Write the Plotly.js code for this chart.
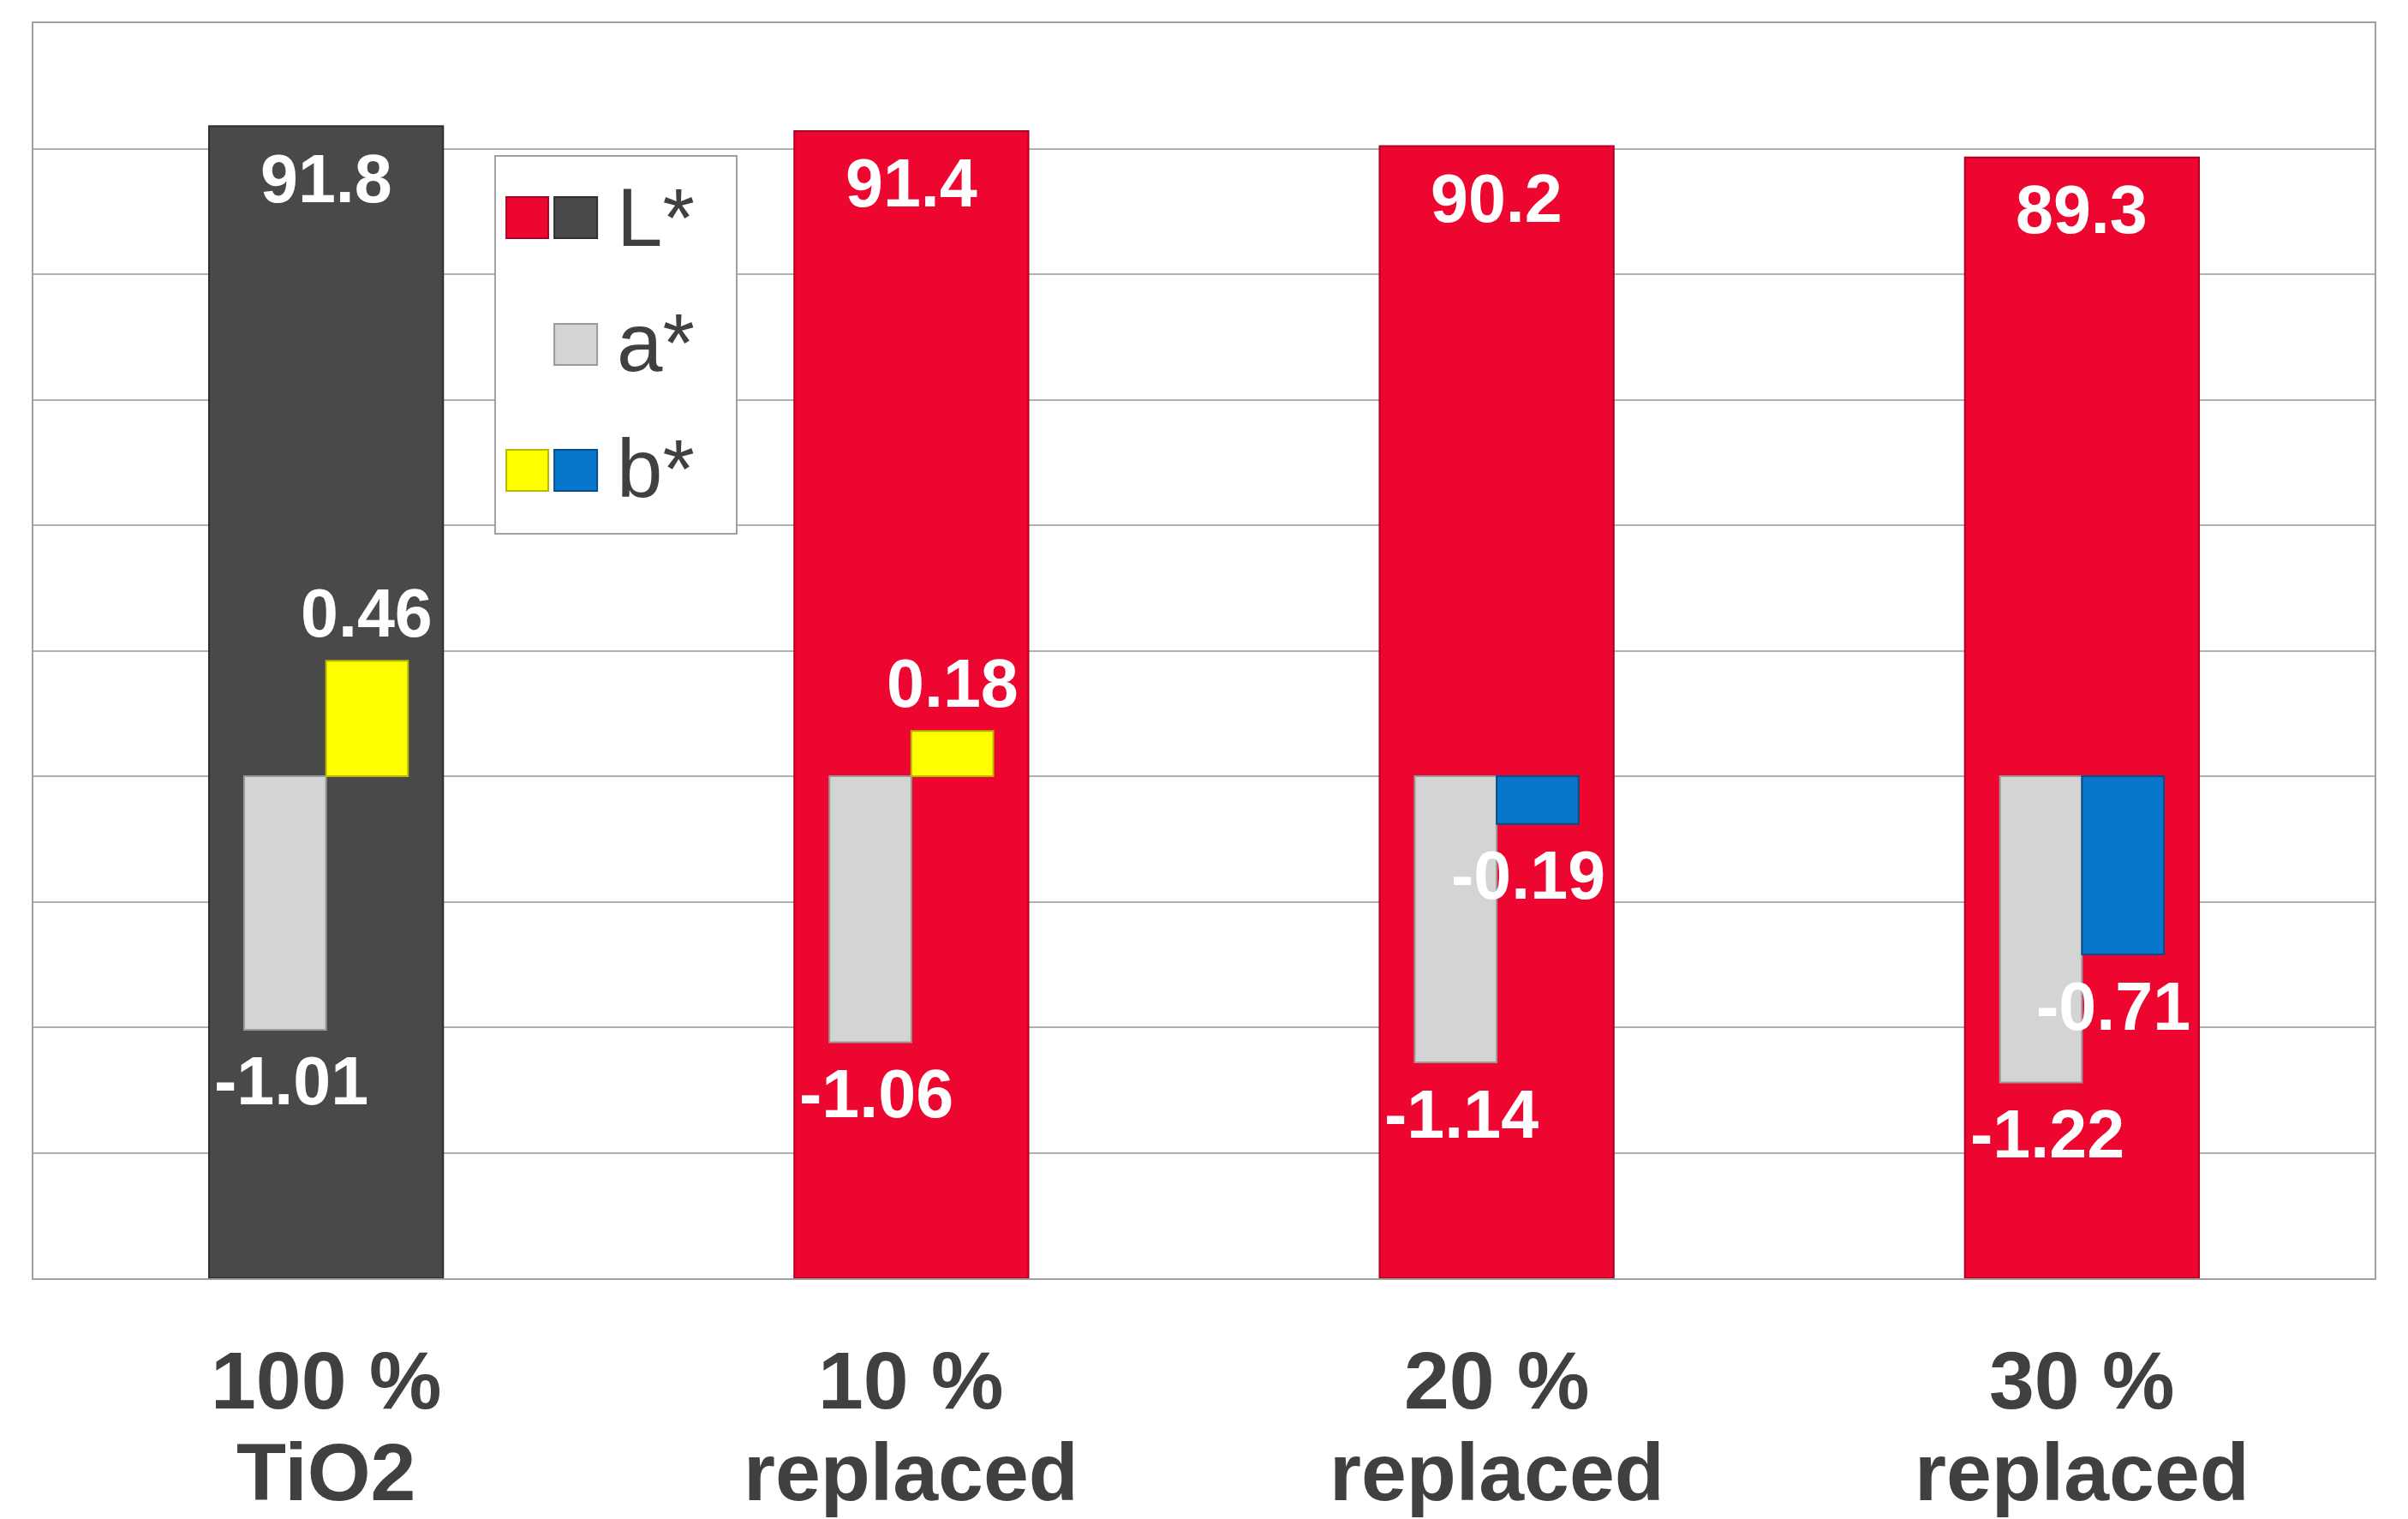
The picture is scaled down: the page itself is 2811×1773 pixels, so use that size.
<!DOCTYPE html>
<html>
<head>
<meta charset="utf-8">
<script src="https://cdn.plot.ly/plotly-3.0.1.min.js"></script>
<style>html,body{margin:0;padding:0;background:#fff;}#chart{width:2811px;height:1773px;}</style>
</head>
<body>
<div id="chart"></div>
<script>
// ---- data ----
var catLine1 = ['100 %', '10 %', '20 %', '30 %'];
var catLine2 = ['TiO2', 'replaced', 'replaced', 'replaced'];
var lValues = [91.8, 91.4, 90.2, 89.3];
var aValues = [-1.01, -1.06, -1.14, -1.22];
var bValues = [0.46, 0.18, -0.19, -0.71];
var legendLabels = ['L*', 'a*', 'b*'];

// ---- styles ----
var RED = '#EC0630', DARK = '#494949', LGRAY = '#D4D4D4', YELLOW = '#FFFF00', BLUE = '#0877CB';
var TXT = '#404040';
var FONT = '"Liberation Sans", Arial, sans-serif';

var lColors = lValues.map(function (v, i) { return i === 0 ? DARK : RED; });
var lLine = lValues.map(function (v, i) { return i === 0 ? '#2e2e2e' : '#B0001F'; });
var bColors = bValues.map(function (v) { return v >= 0 ? YELLOW : BLUE; });
var bLine = bValues.map(function (v) { return v >= 0 ? '#B8B800' : '#05508a'; });

var labelFont = {family: FONT, size: 79, color: '#FFFFFF', weight: 'bold'};

var A_OFF = -0.14, B_OFF = 0, AB_W = 0.14;

var traces = [
  {
    type: 'bar', name: 'L*', x: catLine1, y: lValues, yaxis: 'y',
    width: 0.4, offset: -0.2,
    marker: {color: lColors, line: {color: lLine, width: 2}},
    showlegend: false, hoverinfo: 'skip'
  },
  {
    type: 'bar', name: 'a*', x: catLine1, y: aValues, yaxis: 'y2',
    width: AB_W, offset: A_OFF,
    marker: {color: LGRAY, line: {color: '#9a9a9a', width: 2}},
    showlegend: false, hoverinfo: 'skip'
  },
  {
    type: 'bar', name: 'b*', x: catLine1, y: bValues, yaxis: 'y2',
    width: AB_W, offset: B_OFF,
    marker: {color: bColors, line: {color: bLine, width: 2}},
    showlegend: false, hoverinfo: 'skip'
  }
];

var annotations = [];

// ---- value labels (positioned through the axes) ----
lValues.forEach(function (v, i) {
  annotations.push({x: i, xref: 'x', y: v, yref: 'y', yshift: -61, text: v.toFixed(1),
    showarrow: false, xanchor: 'center', yanchor: 'middle', font: labelFont});
});
aValues.forEach(function (v, i) {
  annotations.push({x: i + A_OFF + AB_W / 2, xref: 'x', y: v, yref: 'y2', xshift: 7,
    yshift: v < 0 ? -60 : 56, text: v.toFixed(2),
    showarrow: false, xanchor: 'center', yanchor: 'middle', font: labelFont});
});
bValues.forEach(function (v, i) {
  annotations.push({x: i + B_OFF + AB_W / 2, xref: 'x', y: v, yref: 'y2', xshift: v < 0 ? -11 : 0,
    yshift: v < 0 ? -60 : 56, text: v.toFixed(2),
    showarrow: false, xanchor: 'center', yanchor: 'middle', font: labelFont});
});

// ---- category labels ----
catLine1.forEach(function (c, i) {
  annotations.push({x: c, xref: 'x', y: -0.0815, yref: 'paper', text: catLine1[i], showarrow: false,
    xanchor: 'center', yanchor: 'middle', font: {family: FONT, size: 95, color: TXT, weight: 'bold'}});
  annotations.push({x: c, xref: 'x', y: -0.1546, yref: 'paper', text: catLine2[i], showarrow: false,
    xanchor: 'center', yanchor: 'middle', font: {family: FONT, size: 95, color: TXT, weight: 'bold'}});
});

// ---- custom legend ----
var legRowY = [0.8451, 0.7454, 0.6451];
var swatchRows = [[0.8287, 0.8614], [0.7276, 0.7604], [0.6273, 0.6601]];
var col1 = [0.2020, 0.2199], col2 = [0.2225, 0.2408];
var shapes = [
  {type: 'rect', xref: 'paper', yref: 'paper', x0: 0.1972, x1: 0.3004, y0: 0.5932, y1: 0.8942,
   fillcolor: '#FFFFFF', line: {color: '#A0A0A0', width: 2}, layer: 'above'}
];
function sw(cols, row, fill, edge) {
  shapes.push({type: 'rect', xref: 'paper', yref: 'paper', x0: cols[0], x1: cols[1],
    y0: swatchRows[row][0], y1: swatchRows[row][1], fillcolor: fill, line: {color: edge, width: 2}, layer: 'above'});
}
sw(col1, 0, RED, '#B0001F');
sw(col2, 0, DARK, '#2e2e2e');
sw(col2, 1, LGRAY, '#9a9a9a');
sw(col1, 2, YELLOW, '#B8B800');
sw(col2, 2, BLUE, '#05508a');
legendLabels.forEach(function (t, i) {
  annotations.push({x: 0.2486, xref: 'paper', y: legRowY[i], yref: 'paper', text: t, showarrow: false,
    xanchor: 'left', yanchor: 'middle', font: {family: FONT, size: 96, color: TXT}});
});

var layout = {
  width: 2811, height: 1773,
  margin: {l: 39, r: 39, t: 27, b: 281, pad: 0},
  paper_bgcolor: '#FFFFFF', plot_bgcolor: '#FFFFFF',
  barmode: 'overlay',
  showlegend: false,
  xaxis: {type: 'category', range: [-0.5, 3.5], showticklabels: false, ticks: '', showgrid: false,
    showline: true, mirror: true, linecolor: '#A0A0A0', linewidth: 2, zeroline: false},
  yaxis: {range: [0, 100], dtick: 10, tick0: 0, showticklabels: false, ticks: '',
    showgrid: true, gridcolor: '#B0B0B0', gridwidth: 2, zeroline: false,
    showline: true, mirror: true, linecolor: '#A0A0A0', linewidth: 2},
  yaxis2: {range: [-2, 3], overlaying: 'y', side: 'right', showticklabels: false, ticks: '',
    showgrid: false, zeroline: false, showline: false},
  annotations: annotations,
  shapes: shapes,
  font: {family: FONT}
};

Plotly.newPlot('chart', traces, layout, {staticPlot: true, displayModeBar: false});
</script>
</body>
</html>
